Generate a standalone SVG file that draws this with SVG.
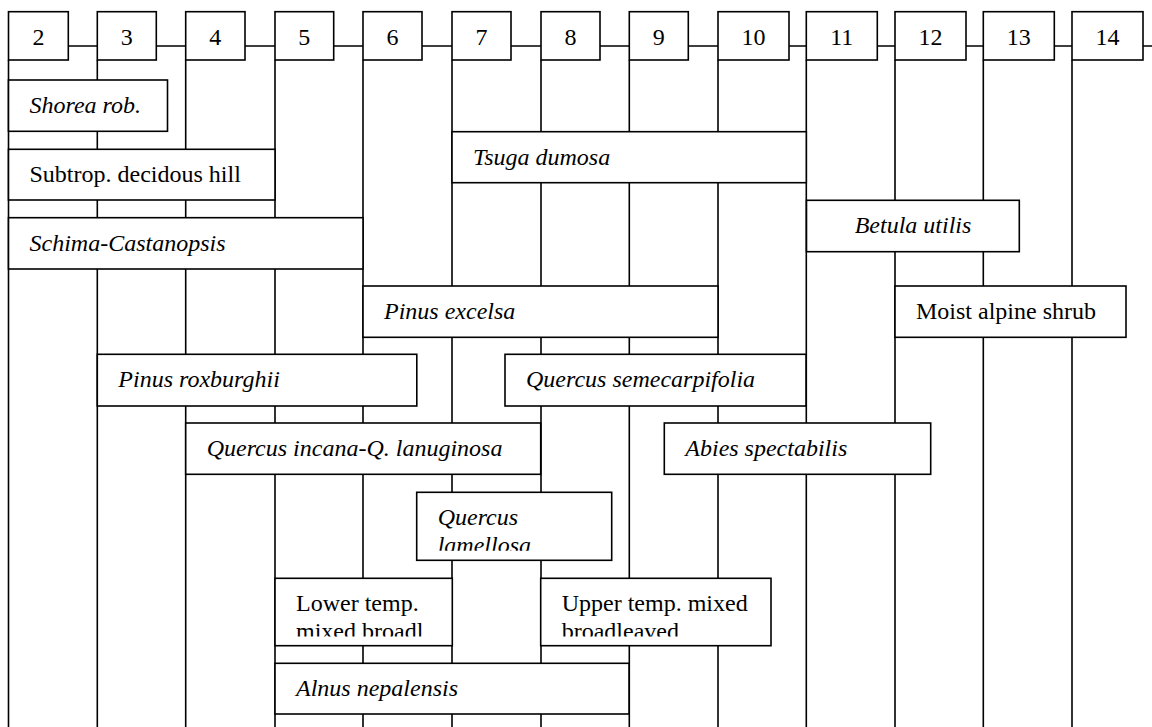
<svg xmlns="http://www.w3.org/2000/svg" width="1152" height="727" viewBox="0 0 1152 727">
<style>
.box{fill:#fff;stroke:#000;stroke-width:1.6}
.ln{stroke:#000;stroke-width:1.6;fill:none}
.t{font-family:"Liberation Serif","Times New Roman",serif;font-size:24px;fill:#000}
.i{font-style:italic}
.c{text-anchor:middle}
</style>
<defs>
<clipPath id="clipLam"><rect x="416.7" y="492.3" width="195" height="58.4"/></clipPath>
<clipPath id="clipLow"><rect x="275" y="578.3" width="177.3" height="58.3"/></clipPath>
<clipPath id="clipUp"><rect x="540.7" y="578.3" width="230.3" height="58.3"/></clipPath>
</defs>
<rect width="1152" height="727" fill="#fff"/>
<g id="connectors" class="ln">
<path d="M68.3 46H97.3M156.3 46H185.7M245 46H275M333.7 46H363M422 46H452M511 46H541M600 46H629.3M688.3 46H718M789 46H806.3M877.3 46H895M966 46H983.3M1054.3 46H1072M1143 46H1152"/>
<path d="M8.5 60V727M97.3 60V727M185.7 60V727M275 60V727M363 60V727M452 60V727M541 60V727M629.3 60V727M718 60V727M806.3 60V727M895 60V727M983.3 60V727M1072 60V727"/>
</g>
<g id="n2"><rect class="box" x="8.5" y="11.7" width="59.8" height="48.3"/><text class="t c" x="38.4" y="45">2</text></g>
<g id="n3"><rect class="box" x="97.3" y="11.7" width="59" height="48.3"/><text class="t c" x="126.8" y="45">3</text></g>
<g id="n4"><rect class="box" x="185.7" y="11.7" width="59.3" height="48.3"/><text class="t c" x="215.3" y="45">4</text></g>
<g id="n5"><rect class="box" x="275" y="11.7" width="58.7" height="48.3"/><text class="t c" x="304.3" y="45">5</text></g>
<g id="n6"><rect class="box" x="363" y="11.7" width="59" height="48.3"/><text class="t c" x="392.5" y="45">6</text></g>
<g id="n7"><rect class="box" x="452" y="11.7" width="59" height="48.3"/><text class="t c" x="481.5" y="45">7</text></g>
<g id="n8"><rect class="box" x="541" y="11.7" width="59" height="48.3"/><text class="t c" x="570.5" y="45">8</text></g>
<g id="n9"><rect class="box" x="629.3" y="11.7" width="59" height="48.3"/><text class="t c" x="658.8" y="45">9</text></g>
<g id="n10"><rect class="box" x="718" y="11.7" width="71" height="48.3"/><text class="t c" x="753.5" y="45">10</text></g>
<g id="n11"><rect class="box" x="806.3" y="11.7" width="71" height="48.3"/><text class="t c" x="841.8" y="45">11</text></g>
<g id="n12"><rect class="box" x="895" y="11.7" width="71" height="48.3"/><text class="t c" x="930.5" y="45">12</text></g>
<g id="n13"><rect class="box" x="983.3" y="11.7" width="71" height="48.3"/><text class="t c" x="1018.8" y="45">13</text></g>
<g id="n14"><rect class="box" x="1072" y="11.7" width="71" height="48.3"/><text class="t c" x="1107.5" y="45">14</text></g>

<g id="shorea"><rect class="box" x="8.5" y="80" width="159" height="51.3"/><text class="t i" x="29.5" y="113.3">Shorea rob.</text></g>
<g id="tsuga"><rect class="box" x="452" y="131.7" width="354.3" height="51"/><text class="t i" x="473" y="164.7">Tsuga dumosa</text></g>
<g id="subtrop"><rect class="box" x="8.5" y="149.3" width="266.5" height="50.7"/><text class="t" x="29.5" y="182">Subtrop. decidous hill</text></g>
<g id="betula"><rect class="box" x="806.5" y="200.3" width="212.8" height="51.4"/><text class="t i c" x="913" y="233.3">Betula utilis</text></g>
<g id="schima"><rect class="box" x="8.5" y="217.7" width="354.5" height="51.3"/><text class="t i" x="29.5" y="250.7">Schima-Castanopsis</text></g>
<g id="pinusexcelsa"><rect class="box" x="363" y="286" width="355" height="51.3"/><text class="t i" x="384" y="319">Pinus excelsa</text></g>
<g id="moistalpine"><rect class="box" x="895" y="286" width="231" height="51.3"/><text class="t" x="916" y="319">Moist alpine shrub</text></g>
<g id="pinusrox"><rect class="box" x="97.3" y="354.3" width="319.5" height="51.7"/><text class="t i" x="118.3" y="387.3">Pinus roxburghii</text></g>
<g id="qsemecarp"><rect class="box" x="505" y="354.3" width="301" height="51.7"/><text class="t i" x="526" y="387.3">Quercus semecarpifolia</text></g>
<g id="qincana"><rect class="box" x="185.7" y="423" width="355" height="51.3"/><text class="t i" x="206.7" y="456">Quercus incana-Q. lanuginosa</text></g>
<g id="abies"><rect class="box" x="664.3" y="423" width="266.4" height="51.3"/><text class="t i" x="685.3" y="456">Abies spectabilis</text></g>
<g id="qlamellosa"><rect class="box" x="416.7" y="492.3" width="195" height="68"/><g clip-path="url(#clipLam)"><text class="t i" x="437.7" y="525.3">Quercus</text><text class="t i" x="437.7" y="553.3">lamellosa</text></g></g>
<g id="lowertemp"><rect class="box" x="275" y="578.3" width="177.3" height="67.4"/><g clip-path="url(#clipLow)"><text class="t" x="296" y="611.3">Lower temp.</text><text class="t" x="296" y="639.3">mixed broadl</text></g></g>
<g id="uppertemp"><rect class="box" x="540.7" y="578.3" width="230.3" height="67.4"/><g clip-path="url(#clipUp)"><text class="t" x="561.7" y="611.3">Upper temp. mixed</text><text class="t" x="561.7" y="639.3">broadleaved</text></g></g>
<g id="alnus"><rect class="box" x="275" y="663.3" width="354" height="50.7"/><text class="t i" x="296" y="696.3">Alnus nepalensis</text></g>
</svg>
